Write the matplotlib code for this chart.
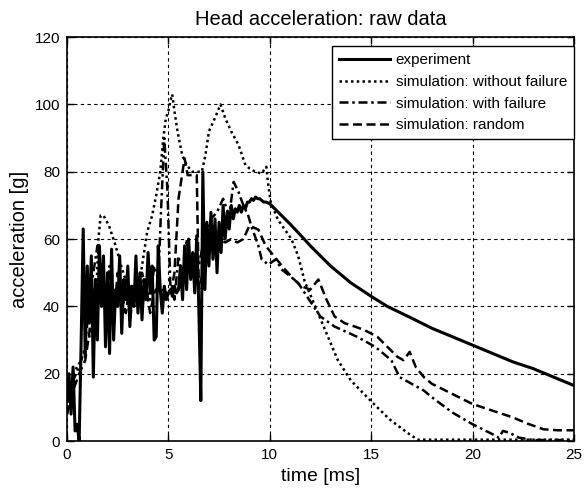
import matplotlib
matplotlib.use("Agg")
import matplotlib.pyplot as plt

# ---------------- data ----------------
exp_t = [0.0, 0.1, 0.2, 0.3, 0.4, 0.5, 0.6, 0.7, 0.8, 0.9,
         1.0, 1.1, 1.2, 1.3, 1.4, 1.5, 1.6, 1.7, 1.8, 1.9,
         2.0, 2.1, 2.2, 2.3, 2.4, 2.5, 2.6, 2.7, 2.8, 2.9,
         3.0, 3.1, 3.2, 3.3, 3.4, 3.5, 3.6, 3.7, 3.8, 3.9,
         4.0, 4.1, 4.2, 4.3, 4.4, 4.5, 4.6, 4.7, 4.8, 4.9,
         5.0, 5.1, 5.2, 5.3, 5.4, 5.5, 5.6, 5.7, 5.8, 5.9,
         6.0, 6.1, 6.2, 6.3, 6.4, 6.5, 6.6, 6.7, 6.8, 6.9,
         7.0, 7.1, 7.2, 7.3, 7.4, 7.5, 7.6, 7.7, 7.8, 7.9,
         8.0, 8.1, 8.2, 8.3, 8.4, 8.5, 8.6, 8.7, 8.8, 8.9,
         9.0, 9.1, 9.2, 9.3, 9.4, 9.5, 9.6, 9.7, 9.8, 9.9,
         10.0, 10.5, 11.0, 11.7, 12.0, 13.0, 14.0, 15.0, 15.8, 17.0,
         18.0, 19.0, 20.0, 21.0, 22.0, 23.0, 24.0, 25.0]
exp_a = [12, 20, 8, 22, 3, 5, 0, 30, 63, 25,
         52, 35, 55, 19, 48, 30, 58, 40, 55, 28,
         50, 26, 57, 30, 45, 40, 55, 32, 48, 42,
         52, 34, 46, 40, 55, 38, 50, 36, 48, 42,
         56, 44, 52, 30, 31, 58, 45, 38, 46, 42,
         44, 45, 43, 46, 44, 45, 52, 42, 58, 45,
         60, 48, 56, 44, 61, 40, 12, 80, 45, 65,
         52, 68, 54, 66, 50, 65, 56, 70, 60, 68,
         63, 70, 66, 69, 68, 70, 68, 70, 69, 71,
         71, 72, 71.5, 72.5, 72, 72, 71.5, 71, 71, 70.8,
         70.5, 67.5, 64.5, 60, 58, 52, 47, 43, 40, 36.5,
         33.5, 31, 28.5, 26, 23.5, 21.5, 19, 16.5]

nof_t = [0.0, 0.3, 0.6, 0.9, 1.2, 1.42, 1.55, 1.66, 1.8, 2.07,
         2.4, 2.72, 3.05, 3.3, 3.5, 3.7, 3.95, 4.2, 4.4, 4.6,
         4.75, 4.88, 5.0, 5.1, 5.19, 5.3, 5.45, 5.68, 5.9, 6.18,
         6.45, 6.65, 6.83, 7.0, 7.3, 7.57, 7.8, 8.1, 8.46, 8.8,
         9.0, 9.28, 9.6, 9.83, 9.93, 10.05, 10.4, 11.07, 11.4, 11.72,
         12.38, 13.36, 14.0, 14.97, 15.9, 16.8, 17.3, 18.0, 25.0]
nof_a = [8, 20, 23, 27, 33, 40, 60, 67, 67, 64,
         58, 51, 45, 42, 44, 52, 62, 67, 73, 80,
         90, 96, 98, 101, 103, 98, 92, 85, 82, 80,
         80, 80, 85, 92, 96, 100, 96, 92, 88, 82,
         81, 80, 79.5, 81.5, 76, 71, 65.8, 60, 55, 47.5,
         38, 24, 18, 12, 6.5, 2.4, 0.4, 0.4, 0.4]

wf_t = [0.0, 0.3, 0.6, 0.9, 1.1, 1.3, 1.5, 1.7, 1.9, 2.1,
        2.3, 2.5, 2.7, 2.9, 3.1, 3.3, 3.5, 3.7, 3.9, 4.1,
        4.3, 4.5, 4.65, 4.8, 4.95, 5.1, 5.3, 5.5, 5.7, 5.9,
        6.1, 6.3, 6.5, 6.7, 6.9, 7.1, 7.4, 7.7, 8.0, 8.22,
        8.46, 8.7, 8.95, 9.1, 9.44, 9.6, 9.93, 10.3, 10.58, 11.0,
        11.4, 12.05, 12.5, 13.2, 14.3, 15.2, 16.0, 16.4, 17.0, 17.6,
        18.0, 19.0, 20.0, 20.5, 21.0, 21.3, 21.5, 21.8, 22.3, 23.0, 25.0]
wf_a = [12, 18, 22, 28, 42, 50, 58, 48, 40, 52,
        38, 46, 40, 48, 36, 44, 40, 50, 45, 42,
        52, 48, 70, 90, 75, 46, 42, 55, 48, 60,
        50, 56, 52, 58, 62, 66, 68, 72, 67, 77,
        74, 70, 66.8, 63.7, 58, 54, 52.4, 54, 51, 49,
        47, 41, 37, 34, 31, 28, 24, 19, 17, 15,
        13, 8.5, 5, 3.5, 2, 1, 3, 2.5, 1, 0.3, 0.3]

rnd_t = [0.0, 0.3, 0.6, 0.9, 1.1, 1.3, 1.5, 1.7, 1.9, 2.1,
         2.3, 2.5, 2.7, 2.9, 3.1, 3.3, 3.5, 3.7, 3.9, 4.1,
         4.3, 4.5, 4.7, 4.9, 5.1, 5.3, 5.5, 5.65, 5.8, 5.95,
         6.1, 6.3, 6.4, 6.5, 6.7, 6.9, 7.2, 7.5, 7.8, 8.1,
         8.4, 8.7, 9.0, 9.44, 9.8, 10.2, 10.75, 11.2, 11.55, 12.0,
         12.4, 12.8, 13.2, 13.7, 14.2, 14.66, 15.3, 15.8, 16.3, 16.6,
         16.9, 17.2, 17.6, 18.0, 19.0, 20.0, 21.0, 22.0, 22.7, 23.5, 24.2, 25.0]
rnd_a = [8, 15, 20, 24, 32, 45, 38, 52, 42, 46,
         36, 50, 44, 38, 46, 42, 48, 40, 46, 38,
         44, 46, 45, 44, 43, 50, 72, 78, 84, 79,
         79, 79, 79, 45, 50, 55, 58, 60, 59, 60,
         59, 60, 64, 62.8, 58, 55, 51, 48, 46, 45,
         48, 42, 37, 35, 34, 33, 31, 28, 25, 24,
         26.5, 22, 19, 17, 14, 11, 9, 7, 5.2, 3.5, 3.2, 3.2]

labels = ["experiment", "simulation: without failure",
          "simulation: with failure", "simulation: random"]
x_ticks = [0, 5, 10, 15, 20, 25]
y_ticks = [0, 20, 40, 60, 80, 100, 120]

# ---------------- figure ----------------
plt.rcParams['font.family'] = ['Liberation Sans', 'DejaVu Sans']
fig = plt.figure(figsize=(5.84, 4.95), dpi=100)
ax = fig.add_axes([0.1147, 0.109, 0.868, 0.816])

ax.plot(exp_t, exp_a, color='black', lw=2.2, ls='-', label=labels[0])
ax.plot(nof_t, nof_a, color='black', lw=1.8, ls=(0, (1, 1.3)), label=labels[1])
ax.plot(wf_t, wf_a, color='black', lw=1.8, ls=(0, (3.6, 1.5, 1, 1.5)), label=labels[2])
ax.plot(rnd_t, rnd_a, color='black', lw=1.8, ls=(0, (3.6, 1.8)), label=labels[3])

ax.set_xlim(0, 25)
ax.set_ylim(0, 120)
ax.set_xticks(x_ticks)
ax.set_yticks(y_ticks)
ax.grid(True, color='black', ls=(0, (3, 3)), lw=0.8)
ax.tick_params(direction='in', top=True, right=True, length=5, width=1,
               labelsize=11, pad=5)
for s in ax.spines.values():
    s.set_linewidth(1.2)

ax.set_title("Head acceleration: raw data", fontsize=14.5, pad=9)
ax.set_xlabel("time [ms]", fontsize=14, labelpad=4)
ax.set_ylabel("acceleration [g]", fontsize=14.5, labelpad=4)

leg = ax.legend(loc='upper right', bbox_to_anchor=(1.0, 0.977),
                borderaxespad=0, fontsize=11, handlelength=3.3,
                handletextpad=0.4, labelspacing=0.5, borderpad=0.45,
                fancybox=False, framealpha=1, edgecolor='black')
leg.get_frame().set_linewidth(1.0)

fig.savefig("out.png", dpi=100)
